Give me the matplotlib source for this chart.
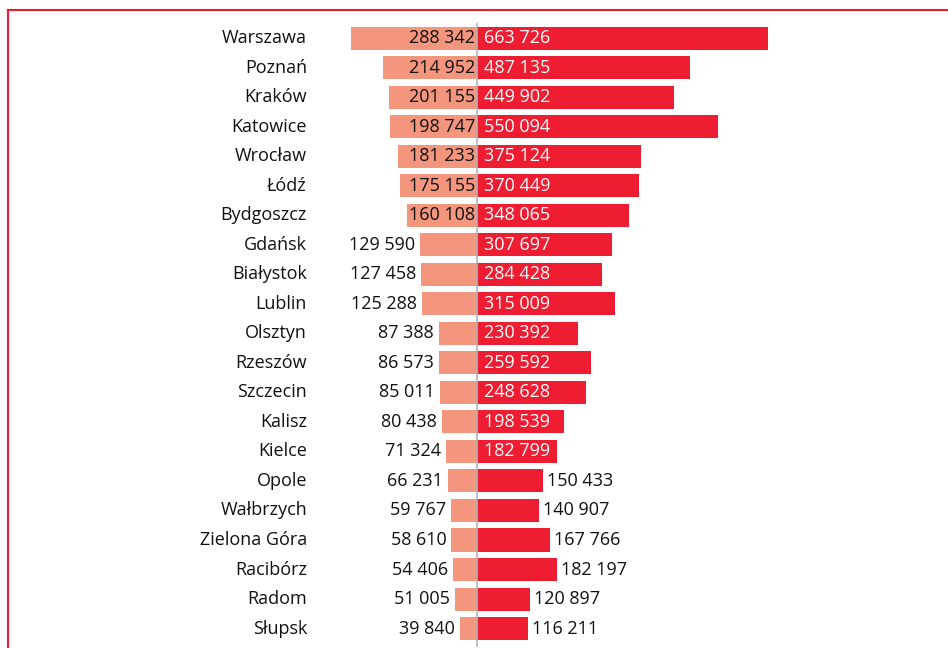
import matplotlib.pyplot as plt
from matplotlib.lines import Line2D

plt.rcParams['font.family'] = ['Open Sans', 'DejaVu Sans']

cities = ['Warszawa', 'Poznań', 'Kraków', 'Katowice', 'Wrocław', 'Łódź', 'Bydgoszcz',
          'Gdańsk', 'Białystok', 'Lublin', 'Olsztyn', 'Rzeszów', 'Szczecin', 'Kalisz',
          'Kielce', 'Opole', 'Wałbrzych', 'Zielona Góra', 'Racibórz', 'Radom', 'Słupsk']
left_values = [288342, 214952, 201155, 198747, 181233, 175155, 160108,
               129590, 127458, 125288, 87388, 86573, 85011, 80438,
               71324, 66231, 59767, 58610, 54406, 51005, 39840]
right_values = [663726, 487135, 449902, 550094, 375124, 370449, 348065,
                307697, 284428, 315009, 230392, 259592, 248628, 198539,
                182799, 150433, 140907, 167766, 182197, 120897, 116211]

LEFT_COLOR = '#f4967d'
RIGHT_COLOR = '#ee1d31'
FS = 13


def fmt(v):
    return f'{v:,}'.replace(',', ' ')


fig = plt.figure(figsize=(9.48, 6.48), dpi=100)
ax = fig.add_axes([0, 0, 1, 1])
ax.set_xlim(-1089000, 1075300)
ax.set_ylim(20.66, -1.30)
ax.axis('off')

rows = range(len(cities))
ax.barh(rows, [-v for v in left_values], height=0.78, color=LEFT_COLOR)
ax.barh(rows, right_values, height=0.78, color=RIGHT_COLOR)

# thin grey divider between the two sides
ax.plot([0, 0], [-0.5, 20.6], color='#b4b4b4', lw=1.2)

px = 1 / 0.000438  # data units per pixel
for i, city in enumerate(cities):
    ax.text(-170 * px, i, city, ha='right', va='center', fontsize=FS, color='#111111')
    lv = left_values[i]
    if lv >= 150000:
        ax.text(-2 * px, i, fmt(lv), ha='right', va='center', fontsize=FS, color='#111111')
    else:
        ax.text(-lv - 5 * px, i, fmt(lv), ha='right', va='center', fontsize=FS, color='#111111')
    rv = right_values[i]
    if rv >= 182500:
        ax.text(7 * px, i, fmt(rv), ha='left', va='center', fontsize=FS, color='white')
    else:
        ax.text(rv + 4 * px, i, fmt(rv), ha='left', va='center', fontsize=FS, color='#111111')

# red frame on the top and left
fig.add_artist(Line2D([8 / 948, 8 / 948], [0, 1 - 10 / 648], transform=fig.transFigure,
                      color=RIGHT_COLOR, lw=1.5))
fig.add_artist(Line2D([8 / 948, 1], [1 - 10 / 648, 1 - 10 / 648], transform=fig.transFigure,
                      color=RIGHT_COLOR, lw=1.5))

plt.savefig('out.png', dpi=100)
